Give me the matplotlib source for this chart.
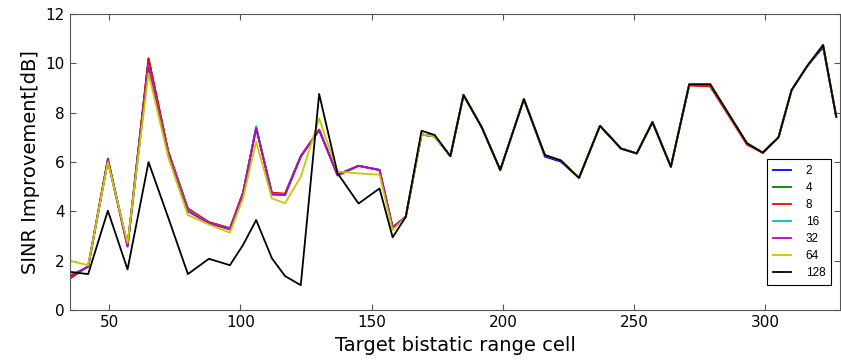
import numpy as np
import matplotlib
matplotlib.use("Agg")
import matplotlib.pyplot as plt

# range cells
cells = [35, 42, 49.5, 57, 65, 72.5, 80, 88, 96, 101, 106, 112, 117, 123, 130,
         137, 145, 153, 158, 163, 169, 174, 180, 185, 192, 199, 208, 216, 222,
         229, 237, 245, 251, 257, 264, 271, 279, 293, 299, 305, 310, 316, 322, 327]

# tail (cells >= 163) where all curves almost coincide
tail = [3.78, 7.12, 7.04, 6.24, 8.72, 7.4, 5.68, 8.55, 6.28, 6.07, 5.36, 7.47,
        6.55, 6.35, 7.62, 5.81, 9.15, 9.15, 6.76, 6.38, 7.0, 8.92, 9.9, 10.74, 7.84]

head_2 = [1.35, 1.76, 6.1, 2.6, 10.2, 6.4, 4.1, 3.55, 3.3, 4.75, 7.4, 4.73, 4.7,
          6.24, 7.3, 5.5, 5.85, 5.68, 3.35]
head_4 = [1.33, 1.77, 6.1, 2.6, 10.15, 6.42, 4.1, 3.56, 3.31, 4.76, 7.4, 4.74, 4.71,
          6.24, 7.31, 5.49, 5.85, 5.68, 3.35]
head_8 = [1.27, 1.78, 6.15, 2.6, 10.2, 6.45, 4.12, 3.57, 3.32, 4.77, 7.38, 4.76, 4.72,
          6.24, 7.32, 5.48, 5.85, 5.68, 3.35]
head_16 = [1.4, 1.76, 6.05, 2.58, 9.9, 6.35, 4.05, 3.53, 3.28, 4.72, 7.45, 4.7, 4.68,
           6.22, 7.3, 5.46, 5.85, 5.68, 3.35]
head_32 = [1.38, 1.76, 6.05, 2.57, 9.85, 6.3, 4.0, 3.52, 3.27, 4.7, 7.38, 4.68, 4.66,
           6.22, 7.3, 5.45, 5.85, 5.68, 3.35]
head_64 = [2.0, 1.82, 6.0, 2.72, 9.6, 6.2, 3.85, 3.47, 3.14, 4.53, 6.82, 4.53, 4.33,
           5.4, 7.77, 5.62, 5.54, 5.49, 3.24]
head_128 = [1.55, 1.46, 4.03, 1.65, 6.0, 3.75, 1.46, 2.08, 1.82, 2.64, 3.65, 2.1, 1.38,
            1.01, 8.76, 5.55, 4.32, 4.93, 2.95]

# small deviations in the tail
tail_2 = list(tail); tail_2[8] = 6.22; tail_2[9] = 6.02; tail_2[23] = 10.65
tail_4 = list(tail); tail_4[17] = 9.07
tail_8 = list(tail); tail_8[16] = 9.1; tail_8[17] = 9.07; tail_8[18] = 6.7
tail_128 = list(tail); tail_128[1] = 7.27; tail_128[2] = 7.1

series = {
    "2": head_2 + tail_2,
    "4": head_4 + tail_4,
    "8": head_8 + tail_8,
    "16": head_16 + tail,
    "32": head_32 + tail,
    "64": head_64 + tail,
    "128": head_128 + tail_128,
}
colors = ["b", "g", "r", "c", "m", "#c8c800", "k"]

fig = plt.figure(figsize=(8.41, 3.61), dpi=100)
ax = fig.add_axes([0.083, 0.141, 0.916, 0.82])

for (name, vals), col in zip(series.items(), colors):
    ax.plot(cells, vals, color=col, lw=1.3, label=name)

ax.set_xlim(35, 328.5)
ax.set_ylim(0, 12)
ax.set_xticks([50, 100, 150, 200, 250, 300])
ax.set_yticks([0, 2, 4, 6, 8, 10, 12])
ax.tick_params(direction="in", top=True, right=True, length=4, labelsize=11,
               color="#555555")
for s in ax.spines.values():
    s.set_color("#555555")
ax.set_xlabel("Target bistatic range cell", fontsize=14, labelpad=4)
ax.set_ylabel("SINR Improvement[dB]", fontsize=14, labelpad=4)

leg = ax.legend(loc="lower right", bbox_to_anchor=(0.996, 0.065), fancybox=False,
                framealpha=1, edgecolor="black", handlelength=1.6,
                labelspacing=0.42, prop={"family": "Liberation Sans", "size": 8.5},
                borderpad=0.5, handletextpad=1.2)
leg.get_frame().set_linewidth(0.8)

fig.savefig("out.png", dpi=100)
